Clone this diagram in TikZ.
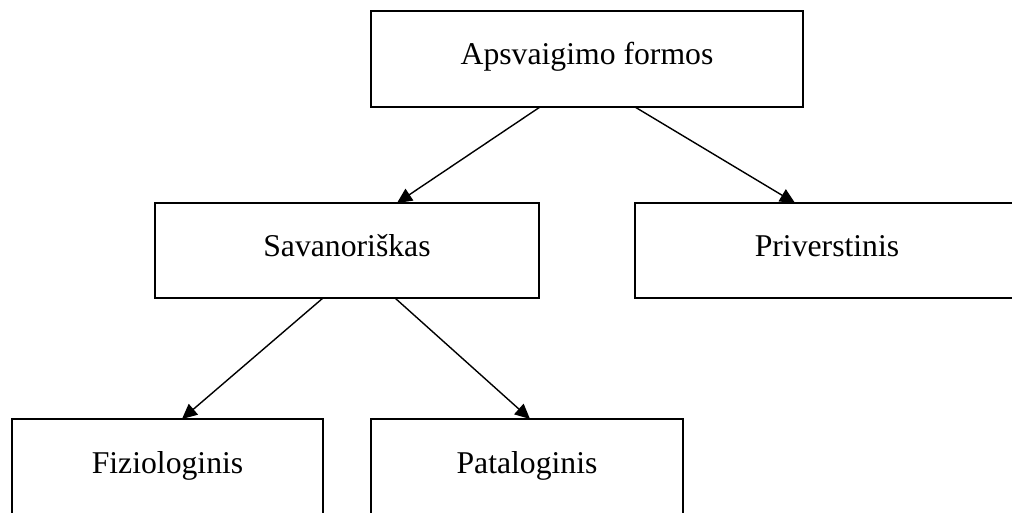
\documentclass[tikz,border=0pt]{standalone}
\usepackage{fontspec}
\setmainfont{Liberation Serif}
\usetikzlibrary{arrows.meta}
\begin{document}
\begin{tikzpicture}[x=1pt,y=-1pt,
  box/.style={draw=black,line width=1.4pt,inner sep=0pt,outer sep=0pt,
    font=\fontsize{31.7}{38}\selectfont,text height=1.45em,text depth=0.25em,
    minimum height=96pt},
  arr/.style={line width=1.4pt,-{Triangle[length=15pt,width=14pt]}}]
\clip (0,0) rectangle (1012,513);
\fill[white] (0,0) rectangle (1012,513);
\node[box,minimum width=432pt] (top) at (587,59) {Apsvaigimo formos};
\node[box,minimum width=384pt,minimum height=95pt] (sav) at (347,250.5) {Savanoriškas};
\node[box,minimum width=384pt,minimum height=95pt] (priv) at (827,250.5) {Priverstinis};
\node[box,minimum width=311pt] (fiz) at (167.5,467) {Fiziologinis};
\node[box,minimum width=312pt] (pat) at (527,467) {Pataloginis};
\draw[arr] ([xshift=-47pt]top.south) -- ([xshift=50pt]sav.north);
\draw[arr] ([xshift=48pt]top.south) -- ([xshift=-32pt]priv.north);
\draw[arr] ([xshift=-24pt]sav.south) -- ([xshift=14.5pt]fiz.north);
\draw[arr] ([xshift=48pt]sav.south) -- ([xshift=3pt]pat.north);
\end{tikzpicture}
\end{document}
